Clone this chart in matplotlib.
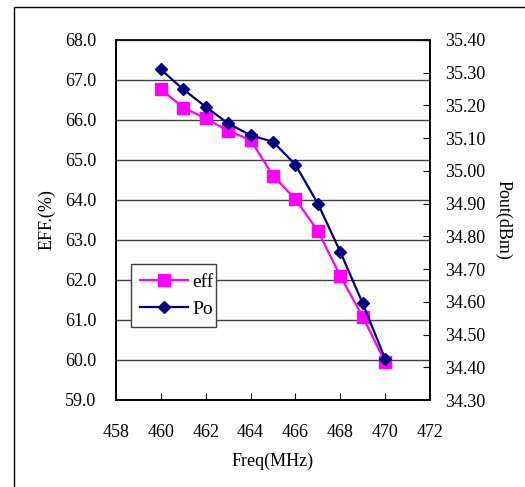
import matplotlib
matplotlib.use("Agg")
import matplotlib.pyplot as plt
from matplotlib.patches import Rectangle

freq = [460, 461, 462, 463, 464, 465, 466, 467, 468, 469, 470]
eff = [66.77, 66.31, 66.04, 65.73, 65.50, 64.61, 64.02, 63.23, 62.10, 61.08, 59.95]
pout = [35.31, 35.249, 35.196, 35.145, 35.109, 35.089, 35.019, 34.90, 34.753, 34.595, 34.426]

x_ticks = [458, 460, 462, 464, 466, 468, 470, 472]
eff_ticks = [59.0, 60.0, 61.0, 62.0, 63.0, 64.0, 65.0, 66.0, 67.0, 68.0]
pout_ticks = [34.30, 34.40, 34.50, 34.60, 34.70, 34.80, 34.90, 35.00, 35.10, 35.20, 35.30, 35.40]

plt.rcParams["font.family"] = ["Liberation Serif", "DejaVu Serif"]
plt.rcParams["font.size"] = 13

fig = plt.figure(figsize=(5.25, 4.87), dpi=100)
fig.patches.append(Rectangle((14 / 525, -0.1), 1.2, 1 - 7 / 487 + 0.1,
                             transform=fig.transFigure, fill=False,
                             edgecolor="black", linewidth=1.0))

ax = fig.add_axes([116 / 525, 1 - 400 / 487, 314 / 525, 360 / 487])
ax2 = ax.twinx()

ax.set_xlim(458, 472)
ax.set_ylim(59, 68)
ax2.set_ylim(34.30, 35.40)

ax.set_xticks(x_ticks)
ax.set_yticks(eff_ticks)
ax.set_yticklabels([f"{v:.1f}" for v in eff_ticks])
ax2.set_yticks(pout_ticks)
ax2.set_yticklabels([f"{v:.2f}" for v in pout_ticks])

ax.yaxis.grid(True, color="#404040", linewidth=1.0)
ax.set_axisbelow(True)

ax.tick_params(axis="x", direction="in", length=5, pad=17, color="black")
ax.tick_params(axis="y", direction="in", length=0, pad=14)
ax2.tick_params(axis="y", direction="in", length=5, pad=11)

for a in (ax, ax2):
    for s in a.spines.values():
        s.set_color("black")
        s.set_linewidth(1.2)
ax.spines["top"].set_color("#808080")

l1, = ax.plot(freq, eff, color="#FF00FF", marker="s", markersize=8.6,
              linewidth=1.6, label="eff", zorder=3)
l2, = ax2.plot(freq, pout, color="#000080", marker="D", markersize=6.5,
               linewidth=1.6, label="Po", zorder=4)

ax.set_xlabel("Freq(MHz)", labelpad=9)
ax.set_ylabel("EFF.(%)", labelpad=7)
ax2.set_ylabel("Pout(dBm)", rotation=270, labelpad=19)

leg = ax2.legend([l1, l2], ["eff", "Po"], loc="lower left",
                 bbox_to_anchor=(0.048, 0.203, 0.27, 0.166), mode="expand",
                 borderaxespad=0, fancybox=False, framealpha=1,
                 edgecolor="#404040", handlelength=2.5, borderpad=0.45,
                 labelspacing=0.5, handletextpad=0.2, fontsize=14)
leg.get_frame().set_linewidth(1.0)

fig.savefig("out.png", dpi=100)
